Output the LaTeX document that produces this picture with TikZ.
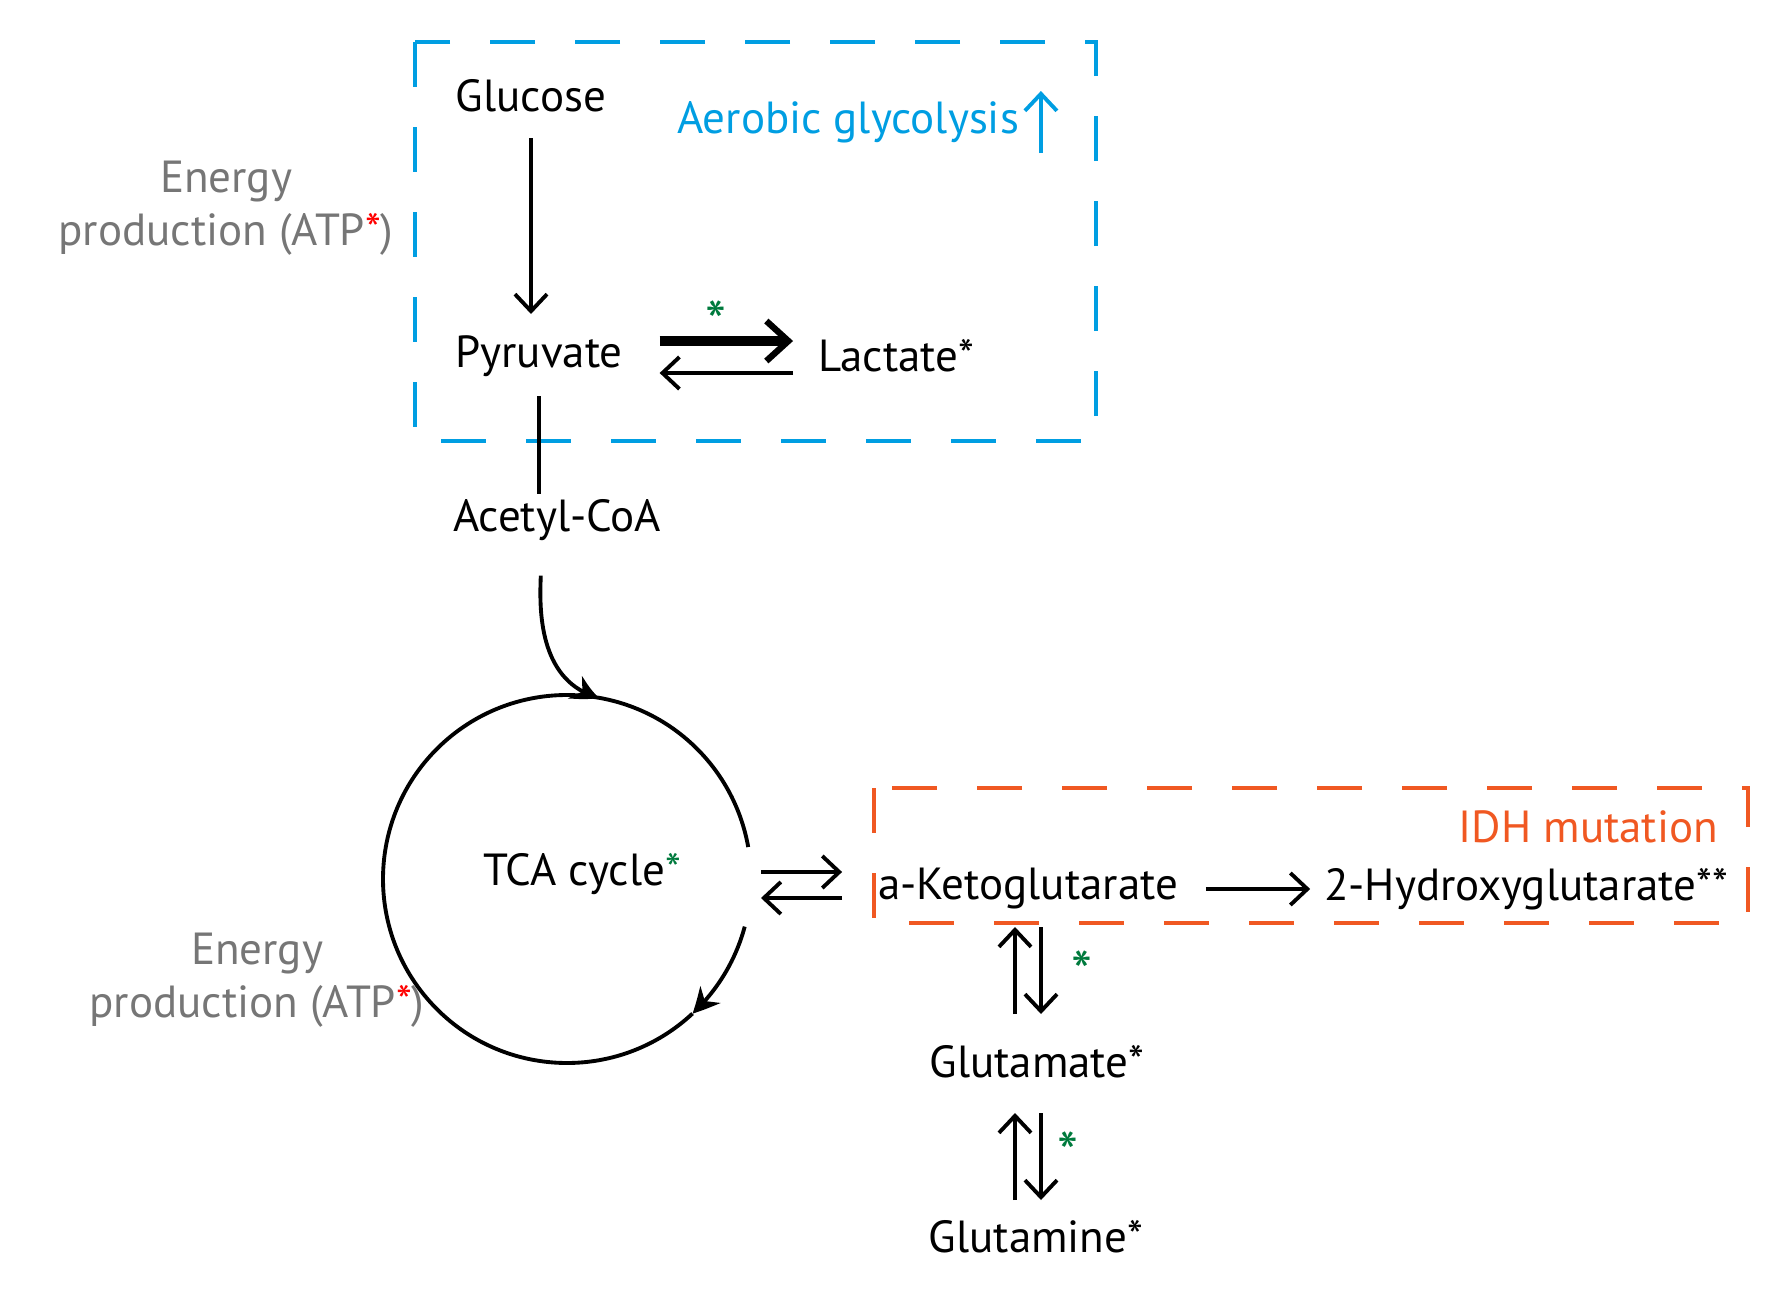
\documentclass[tikz,border=0pt]{standalone}
\usepackage{fontspec}
\setmainfont{PT Sans}
\usetikzlibrary{arrows.meta,bending}
\definecolor{glyblue}{RGB}{0,158,226}
\definecolor{idhorange}{RGB}{240,88,34}
\definecolor{enggray}{RGB}{118,118,118}
\definecolor{stargreen}{RGB}{0,122,61}
\tikzset{
  met/.style={font=\fontsize{12.8}{15}\selectfont, inner sep=0pt, outer sep=0pt},
  note/.style={met, text=enggray, align=center},
  gstar/.style={font=\fontsize{17}{17}\selectfont, inner sep=0pt, text=stargreen},
  line/.style={line width=1.1pt},
  arr/.style={line, -{Straight Barb[length=1.7mm,width=3.2mm]}},
  fatarr/.style={line width=3pt, -{Straight Barb[length=2.2mm,width=4mm,line width=1.8pt]}},
  cycarr/.style={line, -{Stealth[length=2.6mm,width=2.6mm,bend]}},
  boxdash/.style={line width=1.3pt, dash pattern=on 4.5mm off 4mm},
}
\begin{document}
\begin{tikzpicture}
		%%%%% START %%%%%
		\useasboundingbox (0,0) rectangle (17.72,-12.99);
		
		% glycolysis box
		\draw[boxdash, glyblue] (4.15,-0.42) rectangle (10.96,-4.41);
		\node[met] (glucose) at (5.31,-0.96) {Glucose};
		\node[met] (pyruvate) at (5.39,-3.56) {Pyruvate};
		\node[met] (lactate) at (8.96,-3.56) {Lactate*};
		\node[met, text=glyblue] (aerobic) at (8.48,-1.22) {Aerobic glycolysis};
		\draw[arr, glyblue] ([shift={(0.22,-0.31)}]aerobic.east) -- ++(0,0.62);
		\node[met] (acetyl) at (5.57,-5.20) {Acetyl-CoA};
		
		\node[note] (energyA) at (2.26,-2.08) {Energy\\production (ATP{\color{red}*})};
		\node[note] (energyB) at (2.57,-9.80) {Energy\\production (ATP{\color{red}*})};
		
		\draw[arr, shorten <=0.42cm, shorten >=0.42cm] (glucose.center) -- (glucose.center |- pyruvate.center);
		\draw[fatarr, shorten <=0.37cm, shorten >=0.25cm] ([yshift=0.15cm]pyruvate.east) -- ([yshift=0.15cm]pyruvate.east -| lactate.west);
		\draw[arr, shorten <=0.25cm, shorten >=0.37cm] ([yshift=-0.17cm]pyruvate.east -| lactate.west) -- ([yshift=-0.17cm]pyruvate.east);
		\node[gstar] (s1) at (7.16,-3.22) {*};
		\draw[line, shorten <=0.40cm, shorten >=0.26cm] (pyruvate.center) -- (pyruvate.center |- acetyl.center);
		
		% TCA cycle
		\node[circle, minimum size=3.68cm, inner sep=0pt, outer sep=0pt] (tca) at (5.67,-8.79) {};
		\node[met] (tcalbl) at (5.82,-8.74) {TCA cycle{\color{stargreen}*}};
		\draw[cycarr] (tca.-15) arc[start angle=-15, end angle=-47, radius=1.84];
		\draw[line] (tca.-47) arc[start angle=-47, end angle=-350, radius=1.84];
		\draw[cycarr, shorten <=0.35cm] ([xshift=-0.15cm]acetyl.south) to[out=-92, in=165] (tca.80);
		
		% IDH box
		\draw[boxdash, idhorange] (8.74,-7.88) rectangle (17.48,-9.23);
		\node[met, text=idhorange, anchor=east] (idh) at (17.18,-8.27) {IDH mutation};
		\node[met] (akg) at (10.28,-8.89) {a-Ketoglutarate};
		\node[met] (hydroxy) at (15.26,-8.89) {2-Hydroxyglutarate**};
		\node[met] (glutamate) at (10.37,-10.62) {Glutamate*};
		\node[met] (glutamine) at (10.36,-12.37) {Glutamine*};
		
		\draw[arr, shorten <=0.10cm, shorten >=0.36cm] ([yshift=0.17cm]akg.west -| tca.east) -- ([yshift=0.17cm]akg.west);
		\draw[arr, shorten <=0.36cm, shorten >=0.10cm] ([yshift=-0.09cm]akg.west) -- ([yshift=-0.09cm]akg.west -| tca.east);
		\draw[arr, shorten <=0.28cm, shorten >=0.14cm] (akg.east) -- (hydroxy.west);
		
		\draw[arr, shorten <=0.48cm, shorten >=0.38cm] ([xshift=-0.13cm]akg.center |- glutamate.center) -- ([xshift=-0.13cm]akg.center);
		\draw[arr, shorten <=0.38cm, shorten >=0.48cm] ([xshift=0.13cm]akg.center) -- ([xshift=0.13cm]akg.center |- glutamate.center);
		\node[gstar] (s2) at (10.82,-9.72) {*};
		\draw[arr, shorten <=0.37cm, shorten >=0.51cm] ([xshift=-0.13cm]akg.center |- glutamine.center) -- ([xshift=-0.13cm]akg.center |- glutamate.center);
		\draw[arr, shorten <=0.51cm, shorten >=0.37cm] ([xshift=0.13cm]akg.center |- glutamate.center) -- ([xshift=0.13cm]akg.center |- glutamine.center);
		\node[gstar] (s3) at (10.68,-11.53) {*};
		%%%%% END %%%%%
	\end{tikzpicture}
\end{document}
